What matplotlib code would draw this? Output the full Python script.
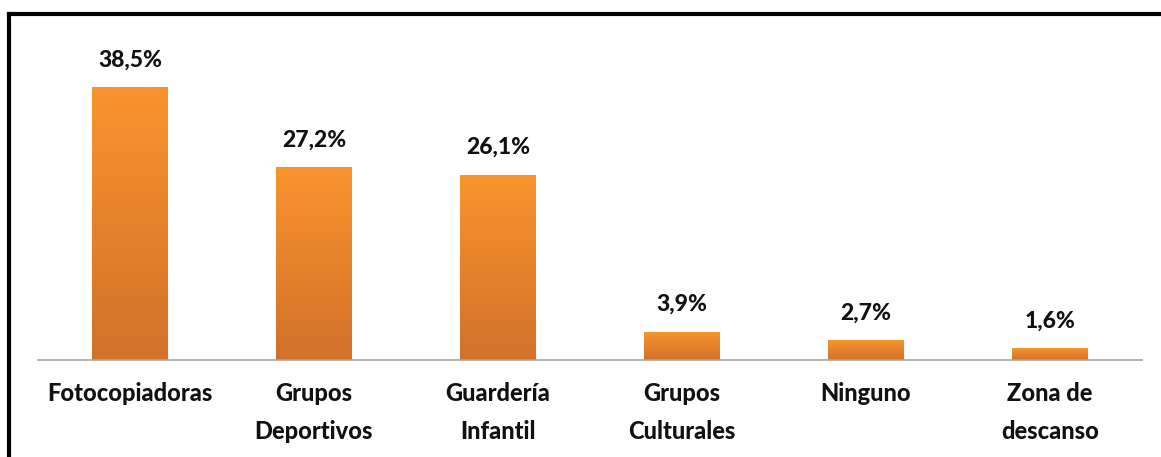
import numpy as np
import matplotlib.pyplot as plt
from matplotlib.lines import Line2D
from matplotlib.colors import LinearSegmentedColormap

categories = ["Fotocopiadoras", "Grupos\nDeportivos", "Guardería\nInfantil",
              "Grupos\nCulturales", "Ninguno", "Zona de\ndescanso"]
values = [38.5, 27.2, 26.1, 3.9, 2.7, 1.6]
value_labels = ["38,5%", "27,2%", "26,1%", "3,9%", "2,7%", "1,6%"]

plt.rcParams['font.family'] = ['Lato', 'DejaVu Sans']

fig = plt.figure(figsize=(11.61, 4.57), dpi=100)
W, H = 1161, 457
ax = fig.add_axes([38 / W, 1 - 360 / H, 1104 / W, 340 / H])

px_per_unit = 7.065
cmap = LinearSegmentedColormap.from_list("orange", ["#D2712A", "#F8942D"])
grad = np.linspace(0, 1, 256).reshape(-1, 1)
bar_w = 0.41

x = np.arange(len(values))
for xi, v, lab in zip(x, values, value_labels):
    ax.imshow(grad, cmap=cmap, origin='lower', aspect='auto',
              extent=(xi - bar_w / 2, xi + bar_w / 2, 0, v), zorder=2)
    ax.text(xi, v + 28 / px_per_unit, lab, ha='center', va='center',
            fontsize=16.5, fontweight='black', color='#111111')

ax.set_xlim(-0.5, len(values) - 0.5)
ax.set_ylim(0, 340 / px_per_unit)

ax.set_xticks(x)
ax.set_xticklabels(categories, fontsize=17, fontweight='black',
                   color='#111111', linespacing=1.8, va='top')
ax.tick_params(axis='x', length=0, pad=16)
ax.set_yticks([])
for s in ['top', 'left', 'right']:
    ax.spines[s].set_visible(False)
ax.spines['bottom'].set_color('#A6A6A6')
ax.spines['bottom'].set_linewidth(1.2)

# outer frame (top and left edges only)
fig.add_artist(Line2D([9 / W, 9 / W], [0, 1 - 13.5 / H],
                      transform=fig.transFigure, color='black', lw=3))
fig.add_artist(Line2D([9 / W, 1], [1 - 13.5 / H, 1 - 13.5 / H],
                      transform=fig.transFigure, color='black', lw=3))

fig.savefig("out.png", dpi=100)
plt.close()
